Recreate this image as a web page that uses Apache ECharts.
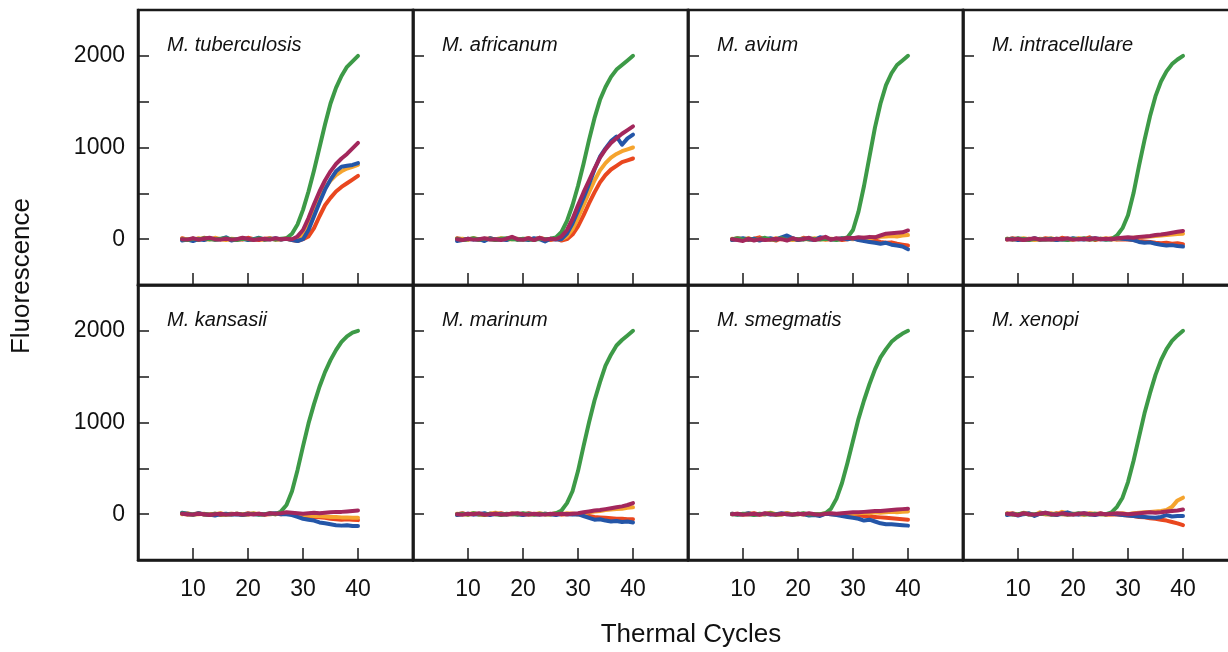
<!DOCTYPE html>
<html style="height: 100%">
<head>
<meta charset="utf-8">
<script src="https://cdn.jsdelivr.net/npm/echarts@6/dist/echarts.min.js"></script>
</head>
<body style="height: 100%; margin: 0; background: #fff">
<div id="container" style="width: 1228px; height: 652px"></div>
<script type="text/javascript">
// thermal cycles 8..40
var cycles = [8,9,10,11,12,13,14,15,16,17,18,19,20,21,22,23,24,25,26,27,28,29,30,31,32,33,34,35,36,37,38,39,40];
var xTicks = [10, 20, 30, 40];
var yTicks = [0, 500, 1000, 1500, 2000];
var yLabels = [0, 1000, 2000];
var species = ['M. tuberculosis', 'M. africanum', 'M. avium', 'M. intracellulare',
               'M. kansasii', 'M. marinum', 'M. smegmatis', 'M. xenopi'];

// M. tuberculosis
var tbGreen  = [0,-10,5,-5,10,0,-5,5,10,0,-10,5,0,-5,10,0,5,-5,5, 10,60,160,320,520,750,1000,1250,1480,1650,1780,1880,1940,2000];
var tbBlue   = [-15,-5,-20,0,-10,10,-5,0,20,-15,0,5,-10,0,15,-5,0,10,-5,5,-10, -20,0,100,250,400,540,650,740,790,800,810,830];
var tbOrange = [5,0,-10,10,0,-5,15,0,-10,5,0,10,-5,0,5,-10,5,0,-5,10,-10, 0,40,150,300,440,560,640,700,740,770,790,810];
var tbRed    = [10,-5,5,-10,15,5,-5,0,10,-10,0,-5,15,0,-10,5,10,-5,0,5,-10,-20, 0,30,120,250,370,450,520,570,610,650,690];
var tbPurple = [0,-5,10,-5,5,15,0,-5,5,-5,0,15,5,-10,0,5,-5,10,0,5, 0,30,100,230,380,520,640,740,820,880,930,990,1050];

// M. africanum
var afGreen  = [5,-10,0,10,-5,5,0,-10,5,10,0,-5,5,0,-10,5,0, 5,20,80,200,370,580,820,1080,1320,1520,1660,1770,1850,1900,1950,2000];
var afBlue   = [-20,-10,5,-5,0,-20,10,-5,0,-10,15,-5,0,-10,10,0,-25,5,-5, 0,60,170,310,450,600,760,900,990,1070,1120,1030,1100,1140];
var afOrange = [0,5,-5,10,0,-5,5,0,10,-5,0,5,-10,5,0,10,-5,0,5, 0,30,110,230,370,510,640,750,830,890,930,960,980,1000];
var afRed    = [10,0,-5,5,-10,0,10,-5,5,0,20,-5,0,10,-5,15,0,-10,5,-15, 0,50,140,260,390,510,620,700,760,800,840,860,880];
var afPurple = [0,-10,5,-5,0,10,-5,0,-10,5,25,0,-5,10,-10,15,-5,5, 0,30,100,220,370,510,640,770,890,980,1050,1100,1150,1190,1230];

// M. avium
var avGreen  = [0,10,-5,5,-10,0,15,-5,0,10,-10,5,0,-5,10,0,-5,5,0,-10,5, 20,100,300,580,900,1220,1480,1680,1810,1900,1950,2000];
var avBlue   = [-10,0,10,-5,5,-15,0,10,-5,20,40,10,-10,5,0,-10,20,10,-5,0,10, 0,10,-10,-20,-30,-40,-50,-40,-60,-70,-80,-110];
var avOrange = [5,-5,0,10,-10,5,0,-5,10,0,5,-10,0,5,-5,10,0,-5,5,0,10, 5,0,10,15,10,20,25,30,35,30,40,45];
var avRed    = [-5,10,0,-10,5,20,-5,0,-15,10,0,5,-10,15,0,-5,10,-5,0,5,-10, 0,10,-5,-10,-20,-15,-30,-40,-35,-50,-60,-70];
var avPurple = [0,-10,-20,5,-15,0,-10,-5,5,0,-15,10,-5,0,15,-10,5,25,-5,10,0, 15,10,20,15,25,20,40,60,65,70,75,95];

// M. intracellulare
var icGreen  = [5,-5,10,0,-10,5,-5,0,-5,5,0,-10,5,0,10,-5,0,5,-5, 0,40,120,260,500,800,1080,1340,1560,1720,1830,1910,1960,2000];
var icBlue   = [0,5,-10,0,-5,10,-5,0,5,-10,0,-5,10,0,-5,5,10,0,-5,0,10, 5,0,-10,-30,-40,-35,-50,-60,-70,-65,-75,-80];
var icOrange = [5,0,-5,10,0,-10,5,0,10,-5,0,5,-5,10,0,-5,5,0,10,-5,0, 10,5,15,20,25,30,35,40,45,50,55,60];
var icRed    = [-5,10,0,-10,5,0,-5,10,0,-10,15,0,-5,5,0,20,-10,5,0,10,-5, 0,-5,-10,-20,-25,-30,-40,-45,-40,-50,-45,-55];
var icPurple = [0,-5,5,-10,0,10,-5,0,-5,5,0,10,-5,0,5,-5,10,0,5,0,10, 15,20,15,25,30,35,45,50,60,70,80,90];

// M. kansasii
var ksGreen  = [10,0,-5,5,0,-10,5,0,-5,0,5,-5,0,5,-5,0,10, 0,30,100,250,480,740,990,1200,1390,1550,1680,1790,1880,1940,1980,2000];
var ksBlue   = [15,5,-5,10,0,-5,-15,0,5,-5,0,-10,5,0,-5,0,5,10,0,0, -10,-30,-50,-60,-70,-90,-100,-110,-120,-125,-120,-130,-130];
var ksOrange = [0,10,-5,0,5,-5,0,10,-5,0,5,0,-5,10,0,-5,5,0,10,5, 0,-5,-10,-15,-20,-20,-25,-30,-30,-35,-35,-40,-40];
var ksRed    = [5,-5,0,10,-5,0,5,-10,0,5,0,-5,10,0,5,-5,0,5,0,10, 0,-10,-20,-25,-30,-35,-40,-50,-55,-60,-55,-60,-65];
var ksPurple = [5,0,-5,5,0,-10,0,5,-5,0,5,-5,0,0,5,-5,10,5,10,20, 15,10,5,10,15,10,15,20,25,25,30,35,40];

// M. marinum
var mmGreen  = [0,5,-5,10,0,-5,5,0,-10,5,0,-5,10,0,-5,5,0, 0,10,40,120,250,470,740,1000,1240,1440,1620,1740,1840,1900,1950,2000];
var mmBlue   = [-10,0,5,-5,0,10,-10,5,0,-5,5,0,-10,5,0,-5,5,0,-10,5,0,-5,0, -20,-40,-60,-55,-70,-80,-75,-85,-80,-90];
var mmOrange = [5,-5,0,10,-5,0,5,15,0,-5,10,0,5,-5,0,10,0,-5,5,0,10,5,0, 10,20,30,35,45,50,55,60,70,75];
var mmRed    = [0,10,-5,5,0,-10,5,0,10,-5,0,5,-5,10,0,-5,5,0,10,-5,0,5,0, -10,-20,-30,-35,-40,-45,-50,-50,-55,-55];
var mmPurple = [0,-5,5,0,10,-5,0,5,-5,0,5,10,0,-5,5,0,-5,5,0,5,0,5,10, 20,30,40,45,55,65,75,85,100,120];

// M. smegmatis
var smGreen  = [0,-5,5,0,-10,5,0,10,-5,0,5,-5,0,10,-5,0, 0,10,60,170,340,560,800,1040,1240,1420,1580,1710,1800,1880,1930,1970,2000];
var smBlue   = [5,-5,0,10,-5,0,5,-5,0,10,0,-5,5,0,-15,-10,-20,5,0,-10, -20,-30,-40,-50,-70,-60,-80,-100,-110,-110,-115,-120,-125];
var smOrange = [0,5,-5,10,0,-5,5,15,0,-5,10,0,5,-5,0,-10,0,10,5,0, 5,10,5,10,15,10,20,15,20,25,20,25,30];
var smRed    = [5,0,-5,0,10,-5,0,5,-5,0,10,-5,0,5,-5,0,-10,5,0,-5, 0,-5,-10,-15,-20,-25,-30,-35,-40,-45,-50,-55,-60];
var smPurple = [0,5,-5,0,5,-5,10,0,-5,5,0,-5,5,0,10,0,-5,5,10,5, 10,15,20,20,25,30,35,35,40,45,50,55,60];

// M. xenopi
var xnGreen  = [5,-5,0,10,-5,0,5,10,-5,0,5,-5,0,10,0,-5,5,0, 0,20,80,180,350,580,840,1100,1320,1520,1680,1800,1890,1950,2000];
var xnBlue   = [-10,5,-15,0,10,-20,5,15,0,-10,5,20,0,-5,10,0,-10,5,0,5, 0,-10,-15,-20,-25,-30,-35,-40,-30,-10,-25,-20,-20];
var xnOrange = [10,0,-5,15,5,-10,20,0,10,-5,25,10,0,5,-5,10,5,0,-5,0, 5,10,0,10,15,20,25,30,35,45,80,150,180];
var xnRed    = [0,10,-5,5,0,-10,5,0,-5,10,0,-5,5,0,-5,5,0,10,-5,0, -5,-10,-15,-20,-30,-35,-45,-50,-60,-70,-85,-100,-120];
var xnPurple = [5,0,-10,10,0,-5,5,15,0,-5,10,0,-5,5,10,0,-5,5,0,5, 10,5,0,5,10,15,20,15,20,30,35,40,50];

var panels = [
    [tbGreen, tbBlue, tbOrange, tbRed, tbPurple],
    [afGreen, afBlue, afOrange, afRed, afPurple],
    [avGreen, avBlue, avOrange, avRed, avPurple],
    [icGreen, icBlue, icOrange, icRed, icPurple],
    [ksGreen, ksBlue, ksOrange, ksRed, ksPurple],
    [mmGreen, mmBlue, mmOrange, mmRed, mmPurple],
    [smGreen, smBlue, smOrange, smRed, smPurple],
    [xnGreen, xnBlue, xnOrange, xnRed, xnPurple]
];
var colors = ['#3d9a47', '#2456a8', '#f5a42e', '#e9471f', '#a3275c'];
var drawOrder = [3, 2, 1, 0, 4]; // red, orange, blue, green, purple on top

var labelFont = 'Liberation Sans, Arial, Helvetica, sans-serif';
var grids = [], xAxes = [], yAxes = [], titles = [], series = [];

function plain(v) { return String(v); }

for (var i = 0; i < 8; i++) {
    var col = i % 4, row = Math.floor(i / 4);
    var gLeft = 138 + col * 275, gTop = 10 + row * 275;
    grids.push({
        left: gLeft, top: gTop, width: 275, height: 275,
        outerBoundsMode: 'none',
        show: true, borderColor: '#1a1a1a', borderWidth: 2.5,
        backgroundColor: 'transparent'
    });
    xAxes.push({
        type: 'value', gridIndex: i, min: 0, max: 50,
        axisLine: { show: true, onZero: false, lineStyle: { color: '#1a1a1a', width: 2.5 } },
        axisTick: { show: true, inside: true, length: 12, customValues: xTicks,
                    lineStyle: { color: '#1a1a1a', width: 1.5 } },
        axisLabel: { show: row === 1, customValues: xTicks, fontSize: 23, margin: 18,
                     color: '#111', fontFamily: labelFont, formatter: plain },
        splitLine: { show: false }
    });
    yAxes.push({
        type: 'value', gridIndex: i, min: -500, max: 2500,
        axisLine: { show: true, onZero: false, lineStyle: { color: '#1a1a1a', width: 2.5 } },
        axisTick: { show: true, inside: true, length: 11, customValues: yTicks,
                    lineStyle: { color: '#1a1a1a', width: 1.5 } },
        axisLabel: { show: col === 0, customValues: yLabels, fontSize: 23, margin: 13,
                     color: '#111', fontFamily: labelFont, formatter: plain },
        splitLine: { show: false }
    });
    titles.push({
        text: species[i], left: gLeft + 29, top: gTop + 25, padding: 0,
        textStyle: { fontSize: 20, fontStyle: 'italic', fontWeight: 'normal',
                     color: '#111', fontFamily: labelFont }
    });
    drawOrder.forEach(function (s, k) {
        var vals = panels[i][s];
        series.push({
            type: 'line', xAxisIndex: i, yAxisIndex: i,
            data: cycles.map(function (c, j) { return [c, vals[j]]; }),
            showSymbol: false, z: 2 + k,
            lineStyle: { color: colors[s], width: 4, join: 'round', cap: 'round' },
            itemStyle: { color: colors[s] },
            animation: false
        });
    });
}

var myChart = echarts.init(document.getElementById('container'));
var option = {
    backgroundColor: '#fff',
    animation: false,
    title: titles,
    grid: grids,
    xAxis: xAxes,
    yAxis: yAxes,
    series: series,
    graphic: [
        { type: 'text', x: 22, y: 276, rotation: Math.PI / 2,
          style: { text: 'Fluorescence', fontSize: 26, fontFamily: labelFont, fill: '#111',
                   textAlign: 'center', textVerticalAlign: 'middle' } },
        { type: 'text', x: 691, y: 635,
          style: { text: 'Thermal Cycles', fontSize: 26, fontFamily: labelFont, fill: '#111',
                   textAlign: 'center', textVerticalAlign: 'middle' } }
    ]
};
myChart.setOption(option, true);
</script>
</body>
</html>
